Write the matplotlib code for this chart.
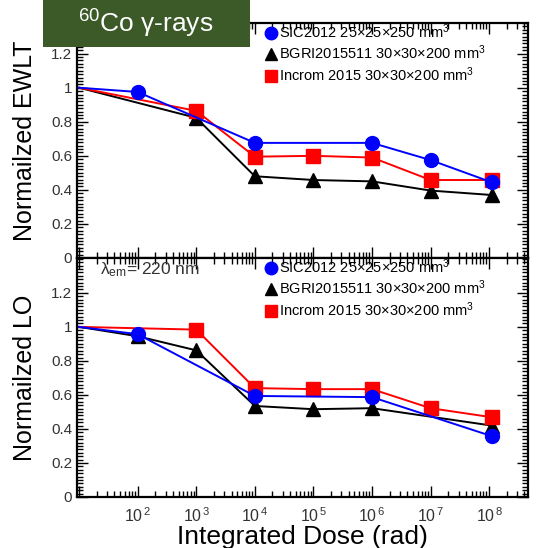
import matplotlib
matplotlib.use("Agg")
import matplotlib.pyplot as plt
from matplotlib.lines import Line2D
from matplotlib.patches import Rectangle
from matplotlib.ticker import FixedLocator, MultipleLocator, LogLocator, NullFormatter

plt.rcParams['font.family'] = ['Liberation Sans', 'DejaVu Sans']
plt.rcParams['mathtext.fontset'] = 'custom'
plt.rcParams['mathtext.rm'] = 'Liberation Sans'
plt.rcParams['mathtext.it'] = 'Liberation Sans:italic'

# integrated dose steps (rad); the first point is the un-irradiated reference
dose_sic_ewlt = [10, 1e2, 1e4, 1e6, 1e7, 1.1e8]
sic_ewlt = [1.0, 0.975, 0.676, 0.676, 0.575, 0.445]
dose_bgri_ewlt = [10, 1e3, 1e4, 1e5, 1e6, 1e7, 1.1e8]
bgri_ewlt = [1.0, 0.823, 0.48, 0.458, 0.45, 0.396, 0.37]
dose_incrom_ewlt = [10, 1e3, 1e4, 1e5, 1e6, 1e7, 1.1e8]
incrom_ewlt = [1.0, 0.864, 0.595, 0.6, 0.59, 0.458, 0.458]

dose_sic_lo = [10, 1e2, 1e4, 1e6, 1.1e8]
sic_lo = [1.0, 0.957, 0.594, 0.587, 0.358]
dose_bgri_lo = [10, 1e2, 1e3, 1e4, 1e5, 1e6, 1.1e8]
bgri_lo = [1.0, 0.945, 0.862, 0.535, 0.516, 0.522, 0.42]
dose_incrom_lo = [10, 1e3, 1e4, 1e5, 1e6, 1e7, 1.1e8]
incrom_lo = [1.0, 0.984, 0.64, 0.634, 0.634, 0.522, 0.469]

labels = ['SIC2012 25×25×250 mm$^3$',
          'BGRI2015511 30×30×200 mm$^3$',
          'Incrom 2015 30×30×200 mm$^3$']
xticks = [1e2, 1e3, 1e4, 1e5, 1e6, 1e7, 1e8]
xticklabels = [r'$10^{\,%d}$' % p for p in range(2, 9)]
yticks = [0, 0.2, 0.4, 0.6, 0.8, 1.0, 1.2]

fig = plt.figure(figsize=(5.38, 5.48), dpi=100)
ax1 = fig.add_axes([0.1431, 0.5292, 0.8383, 0.4288])
ax2 = fig.add_axes([0.1431, 0.0931, 0.8383, 0.4361])

def style(ax, ytop):
    ax.set_xscale('log')
    ax.set_xlim(9.2, 4.6e8)
    ax.set_ylim(0, ytop)
    ax.xaxis.set_major_locator(FixedLocator([1e1] + xticks))
    ax.xaxis.set_minor_locator(LogLocator(base=10, subs=range(2, 10), numticks=20))
    ax.xaxis.set_minor_formatter(NullFormatter())
    ax.yaxis.set_major_locator(FixedLocator(yticks))
    ax.yaxis.set_minor_locator(MultipleLocator(0.02))
    ax.set_yticklabels(['%g' % v for v in yticks])
    ax.tick_params(which='both', direction='in', top=True, right=True,
                   labelsize=11, labelcolor='#333333', width=1.0)
    ax.tick_params(which='major', length=8)
    ax.tick_params(which='minor', length=4)
    for sp in ax.spines.values():
        sp.set_linewidth(1.6)

def draw(ax, d1, v1, d2, v2, d3, v3):
    # the reference point at the left edge carries no marker
    ax.plot(d1, v1, color='blue', lw=1.4, marker='o', ms=10, zorder=3,
            markevery=slice(1, None))
    ax.plot(d2, v2, color='black', lw=1.4, marker='^', ms=9.5, zorder=2,
            markevery=slice(1, None))
    ax.plot(d3, v3, color='red', lw=1.4, marker='s', ms=9.5, zorder=2.5,
            markevery=slice(1, None))
    handles = [Line2D([], [], ls='none', marker='o', color='blue', ms=9),
               Line2D([], [], ls='none', marker='^', color='black', ms=9),
               Line2D([], [], ls='none', marker='s', color='red', ms=9)]
    ax.legend(handles, labels, loc='upper left', bbox_to_anchor=(0.415, 1.01),
              frameon=False, fontsize=10.5, handlelength=0.7, handletextpad=0.25,
              labelspacing=0.2, borderpad=0.1, borderaxespad=0)

style(ax1, 1.38)
style(ax2, 1.405)
draw(ax1, dose_sic_ewlt, sic_ewlt, dose_bgri_ewlt, bgri_ewlt, dose_incrom_ewlt, incrom_ewlt)
draw(ax2, dose_sic_lo, sic_lo, dose_bgri_lo, bgri_lo, dose_incrom_lo, incrom_lo)

ax1.set_xticklabels([])
ax2.set_xticklabels([''] + xticklabels)
ax2.tick_params(axis='x', pad=7, labelsize=11.5)
ax2.set_xlabel('Integrated Dose (rad)', fontsize=19, labelpad=0)
ax1.set_ylabel('Normailzed EWLT', fontsize=18, labelpad=10)
ax2.set_ylabel('Normailzed LO', fontsize=18, labelpad=10)
ax2.text(0.05, 0.99, r'λ$_{\mathrm{em}}$= 220 nm', transform=ax2.transAxes,
         fontsize=12.5, va='top', ha='left', color='#333333')

# x title of the upper panel, mostly above the top edge
fig.text(0.416, 1 + 4 / 548, 'Integrated Dose (rad)', fontsize=19,
         ha='center', va='bottom')

# source label box
fig.patches.append(Rectangle((43 / 538, 1 - 47 / 548), 207 / 538, 47 / 548,
                             transform=fig.transFigure, facecolor='#3b5a27',
                             edgecolor='none', zorder=5))
fig.text(146 / 538, 1 - 24 / 548, r'$^{60}$Co γ-rays', color='white', fontsize=19,
         ha='center', va='center', zorder=6)

fig.savefig('out.png', dpi=100)
